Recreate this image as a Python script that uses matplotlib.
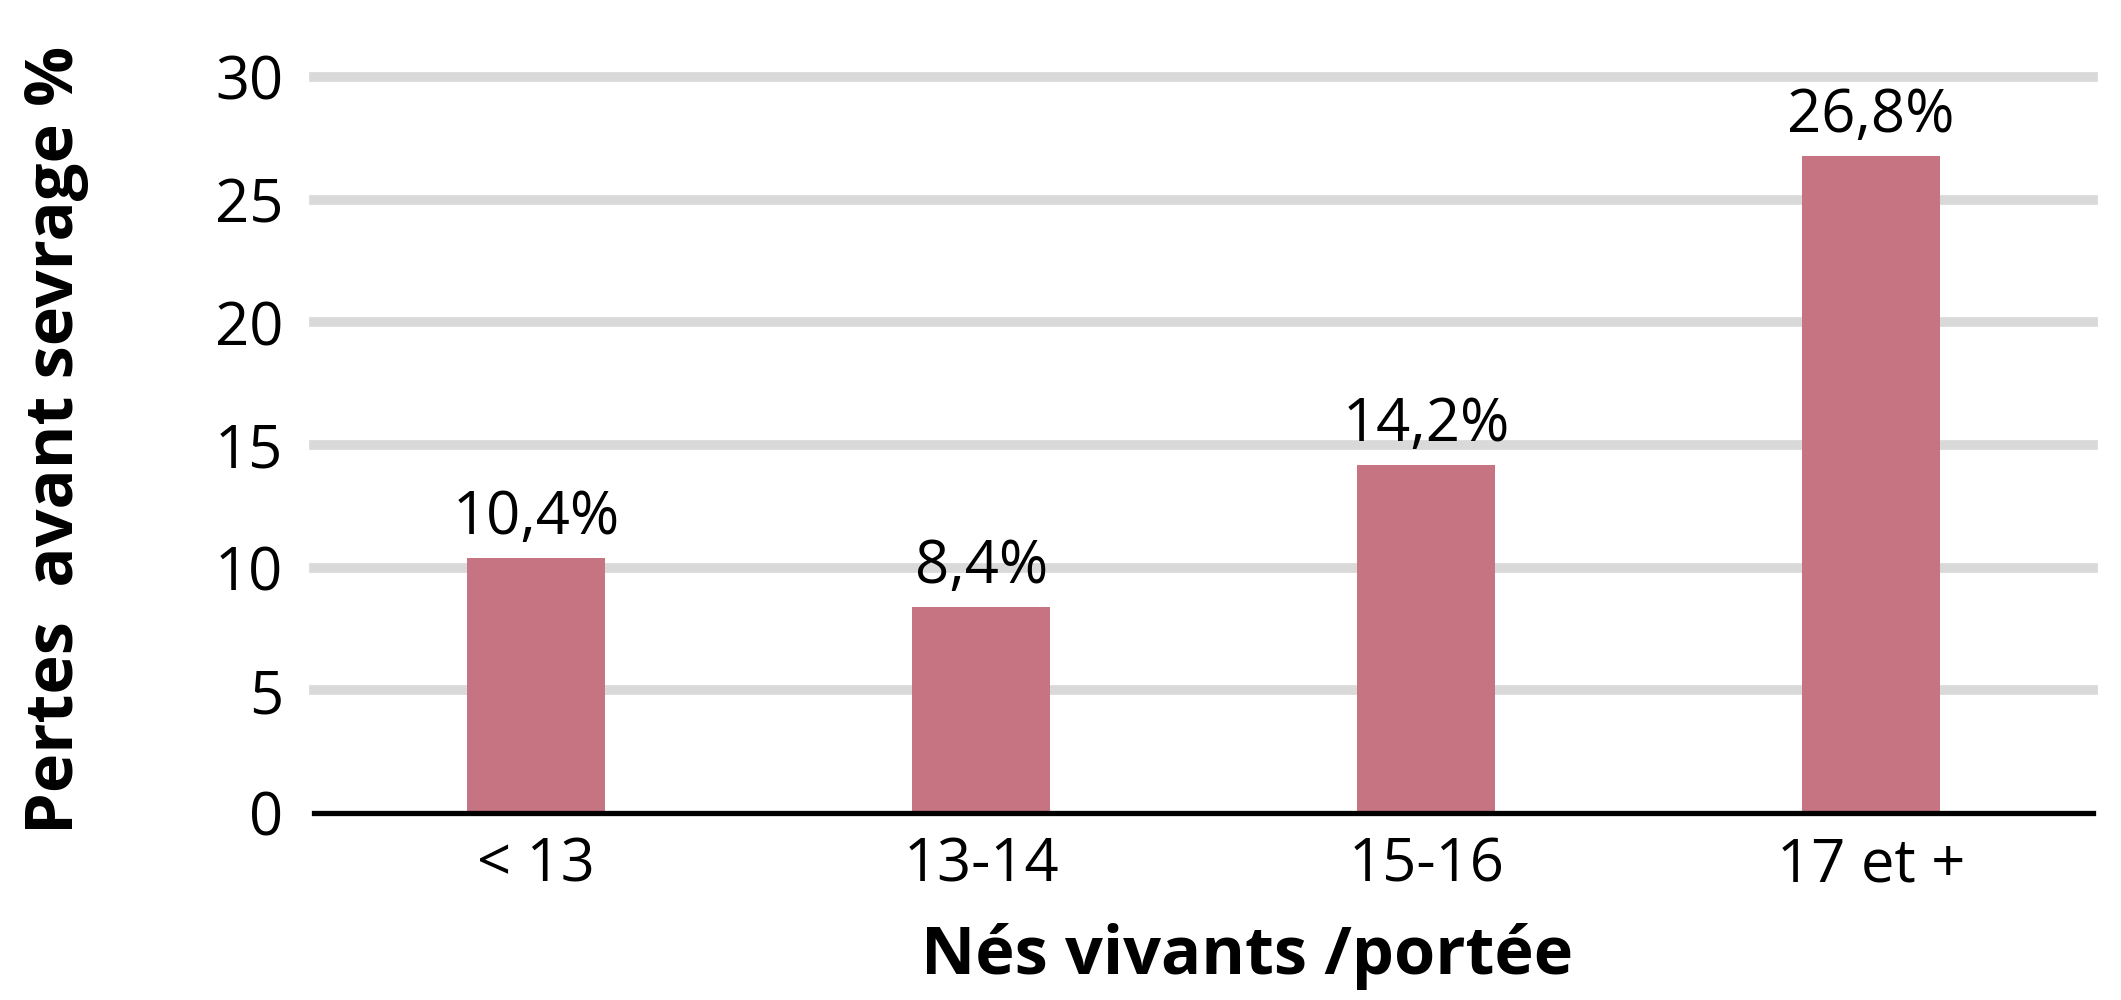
import numpy as np
import matplotlib.pyplot as plt
import matplotlib as mpl

# Police
mpl.rcParams['font.family'] = ['Open Sans', 'DejaVu Sans']

# Données
categories = ['< 13', '13-14', '15-16', '17 et +']
pertes = [10.4, 8.4, 14.2, 26.8]
etiquettes = ['10,4%', '8,4%', '14,2%', '26,8%']
yticks = [0, 5, 10, 15, 20, 25, 30]

fig = plt.figure(figsize=(21.21, 10), dpi=100)
ax = fig.add_axes([0.148, 0.187, 0.839, 0.736])

x = np.arange(len(categories))
ax.bar(x, pertes, width=0.31, color='#C77482', zorder=3)

for xi, v, lab in zip(x, pertes, etiquettes):
    ax.annotate(lab, (xi, v), xytext=(0, 7), textcoords='offset points',
                ha='center', va='bottom', fontsize=43)

ax.set_xlim(-0.5, len(categories) - 0.5)
ax.set_ylim(0, 30)
ax.set_yticks(yticks)
ax.set_xticks(x)
ax.set_xticklabels(categories)
ax.tick_params(axis='both', length=0, labelsize=43)
ax.tick_params(axis='y', pad=22)
ax.tick_params(axis='x', pad=16)

# Grille
for yt in yticks[1:]:
    ax.axhline(yt, color='#D9D9D9', linewidth=7, zorder=1, clip_on=False)
ax.axhline(0, color='black', linewidth=3.8, zorder=4, clip_on=False)

for s in ax.spines.values():
    s.set_visible(False)

fig.text(0.026, 0.56, 'Pertes  avant sevrage %', rotation=90, ha='center', va='center',
         fontsize=48, fontweight='bold')
fig.text(0.588, 0.043, 'Nés vivants /portée', ha='center', va='center',
         fontsize=48, fontweight='bold')

fig.savefig('out.png', dpi=100)
